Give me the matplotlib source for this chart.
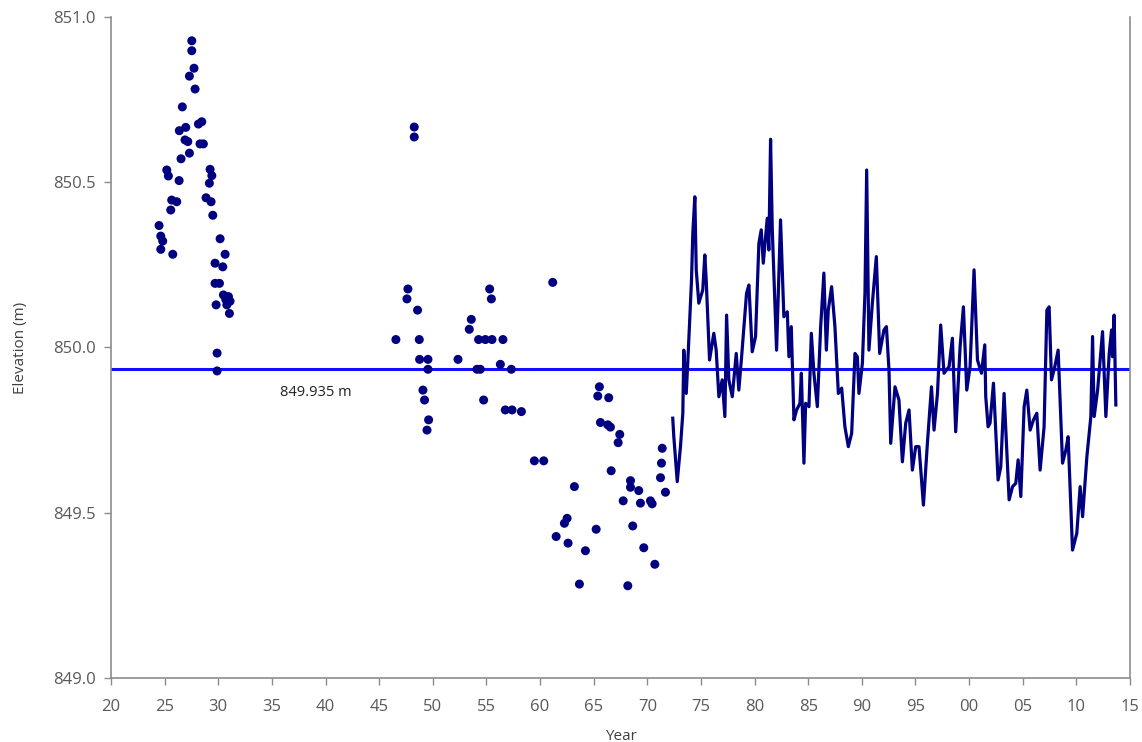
import matplotlib.pyplot as plt
import numpy as np

plt.rcParams['font.family'] = ['Open Sans', 'DejaVu Sans']

# Spot survey readings (year, elevation in m)
survey_years = [
    1927.53, 1927.53, 1927.74, 1927.31, 1927.84, 1926.65, 1928.46, 1928.15, 1926.97, 1926.37,
    1926.90, 1927.16, 1928.30, 1928.61, 1927.31, 1926.53, 1925.20, 1925.35, 1926.35, 1929.24,
    1929.40, 1929.17, 1925.66, 1926.13, 1925.57, 1928.86, 1929.33, 1929.49, 1924.48, 1924.64,
    1924.82, 1924.64, 1925.76, 1930.17, 1930.64, 1929.70, 1930.42, 1929.70, 1930.11, 1930.48,
    1930.95, 1929.80, 1930.80, 1931.04, 1929.89, 1929.89, 1930.70, 1931.10,
    1947.68, 1947.59, 1948.58, 1946.56, 1948.74, 1948.77, 1949.55, 1949.55, 1949.08, 1949.23,
    1949.61, 1949.46, 1952.35, 1953.59, 1953.40, 1954.27, 1954.90, 1955.52, 1956.54, 1954.12,
    1954.43, 1956.30, 1957.32, 1954.74, 1956.76, 1957.39, 1958.26, 1955.30, 1955.46, 1961.18,
    1948.27, 1948.27,
    1959.47, 1960.34, 1963.20, 1965.53, 1965.38, 1966.40, 1965.63, 1966.31, 1966.56, 1967.43,
    1967.28, 1966.63, 1968.43, 1968.43, 1969.20, 1967.75, 1969.36, 1970.29, 1970.45, 1971.39,
    1971.32, 1971.23, 1971.69, 1962.52, 1962.27, 1961.50, 1962.61, 1964.23, 1965.23, 1968.64,
    1969.67, 1970.70, 1963.67, 1968.18,
]
survey_elev = [
    850.928, 850.898, 850.845, 850.821, 850.782, 850.728, 850.683, 850.676, 850.666, 850.656,
    850.628, 850.623, 850.616, 850.616, 850.588, 850.571, 850.537, 850.519, 850.505, 850.539,
    850.520, 850.497, 850.446, 850.441, 850.416, 850.453, 850.441, 850.400, 850.369, 850.337,
    850.322, 850.297, 850.282, 850.329, 850.282, 850.255, 850.244, 850.194, 850.194, 850.159,
    850.154, 850.129, 850.129, 850.103, 849.983, 849.929, 850.145, 850.140,
    850.177, 850.147, 850.113, 850.024, 850.024, 849.964, 849.964, 849.934, 849.871, 849.841,
    849.781, 849.750, 849.964, 850.085, 850.055, 850.024, 850.024, 850.024, 850.024, 849.934,
    849.934, 849.949, 849.934, 849.841, 849.811, 849.811, 849.806, 850.177, 850.147, 850.197,
    850.667, 850.637,
    849.657, 849.657, 849.579, 849.881, 849.853, 849.848, 849.773, 849.766, 849.759, 849.737,
    849.712, 849.627, 849.597, 849.577, 849.567, 849.536, 849.529, 849.536, 849.527, 849.695,
    849.650, 849.606, 849.562, 849.483, 849.468, 849.428, 849.408, 849.385, 849.450, 849.460,
    849.394, 849.344, 849.284, 849.279,
]

# Continuous gauge record
gauge_years = [
    1972.37, 1972.47, 1972.79, 1973.09, 1973.31, 1973.40, 1973.63, 1973.81, 1974.12, 1974.24,
    1974.43, 1974.56, 1974.80, 1975.17, 1975.36, 1975.49, 1975.80, 1976.20, 1976.42, 1976.67,
    1976.98, 1977.23, 1977.39, 1977.60, 1977.92, 1978.29, 1978.53, 1978.79, 1979.25, 1979.47,
    1979.78, 1980.09, 1980.40, 1980.62, 1980.81, 1981.18, 1981.33, 1981.49, 1981.65, 1982.05,
    1982.42, 1982.73, 1983.05, 1983.20, 1983.42, 1983.67, 1983.92, 1984.23, 1984.36, 1984.60,
    1984.76, 1985.07, 1985.29, 1985.53, 1985.85, 1986.16, 1986.46, 1986.69, 1986.87, 1987.18,
    1987.49, 1987.81, 1988.12, 1988.42, 1988.74, 1989.05, 1989.36, 1989.58, 1989.73, 1990.05,
    1990.29, 1990.45, 1990.66, 1990.98, 1991.35, 1991.66, 1992.06, 1992.29, 1992.53, 1992.69,
    1993.09, 1993.46, 1993.78, 1994.09, 1994.40, 1994.71, 1995.02, 1995.33, 1995.74, 1996.11,
    1996.49, 1996.73, 1997.05, 1997.35, 1997.66, 1998.13, 1998.44, 1998.75, 1999.16, 1999.47,
    1999.78, 2000.09, 2000.46, 2000.78, 2001.15, 2001.46, 2001.55, 2001.77, 2001.95, 2002.27,
    2002.70, 2002.95, 2003.26, 2003.73, 2004.05, 2004.35, 2004.57, 2004.82, 2005.13, 2005.38,
    2005.69, 2006.00, 2006.31, 2006.62, 2006.99, 2007.25, 2007.46, 2007.68, 2007.99, 2008.30,
    2008.71, 2009.02, 2009.23, 2009.64, 2010.04, 2010.35, 2010.58, 2010.98, 2011.35, 2011.51,
    2011.66, 2011.98, 2012.44, 2012.75, 2013.06, 2013.28, 2013.37, 2013.52, 2013.68,
]
gauge_elev = [
    849.786, 849.730, 849.594, 849.700, 849.801, 849.992, 849.861, 849.982, 850.204, 850.346,
    850.456, 850.235, 850.134, 850.174, 850.280, 850.204, 849.962, 850.043, 849.992, 849.851,
    849.902, 849.791, 850.098, 849.902, 849.851, 849.982, 849.871, 849.972, 850.164, 850.189,
    849.987, 850.033, 850.315, 850.356, 850.255, 850.391, 850.295, 850.630, 850.356, 849.992,
    850.386, 850.093, 850.108, 849.972, 850.063, 849.781, 849.811, 849.831, 849.922, 849.650,
    849.831, 849.821, 850.043, 849.922, 849.821, 850.063, 850.225, 849.992, 850.113, 850.184,
    850.063, 849.861, 849.877, 849.760, 849.700, 849.740, 849.982, 849.972, 849.861, 849.952,
    850.164, 850.537, 849.992, 850.134, 850.275, 849.982, 850.053, 850.063, 849.932, 849.710,
    849.881, 849.841, 849.654, 849.771, 849.811, 849.629, 849.700, 849.700, 849.523, 849.710,
    849.881, 849.750, 849.861, 850.068, 849.922, 849.942, 850.028, 849.745, 850.002, 850.123,
    849.871, 849.942, 850.235, 849.962, 849.922, 850.008, 849.851, 849.760, 849.771, 849.892,
    849.599, 849.639, 849.861, 849.539, 849.579, 849.589, 849.660, 849.549, 849.821, 849.871,
    849.750, 849.781, 849.801, 849.629, 849.760, 850.113, 850.123, 849.902, 849.942, 849.992,
    849.650, 849.690, 849.730, 849.387, 849.438, 849.579, 849.488, 849.670, 849.791, 850.033,
    849.791, 849.871, 850.048, 849.791, 849.982, 850.053, 849.972, 850.098, 849.826,
]

reference_level = 849.935

year_ticks = list(range(1920, 2016, 5))
year_labels = [f"{y % 100:02d}" for y in year_ticks]
elev_ticks = [849.0, 849.5, 850.0, 850.5, 851.0]

navy = '#000080'
grey = '#595959'

fig = plt.figure(figsize=(11.42, 7.42), dpi=100)
ax = fig.add_axes([0.0972, 0.0863, 0.8923, 0.8908])

ax.axhline(reference_level, color='#1010ff', lw=2.2, zorder=2)
ax.plot(gauge_years, gauge_elev, color=navy, lw=2.3, solid_joinstyle='round', zorder=3)
ax.scatter(survey_years, survey_elev, s=42, color=navy, edgecolors='none', zorder=4)

ax.text(1939.1, 849.865, f"{reference_level} m", fontsize=10.5, ha='center', va='center',
        color='#222222')

ax.set_xlim(1920, 2015)
ax.set_ylim(849.0, 851.0)
ax.set_xticks(year_ticks)
ax.set_xticklabels(year_labels)
ax.set_yticks(elev_ticks)
ax.set_yticklabels([f"{v:.1f}" for v in elev_ticks])

ax.tick_params(axis='both', direction='out', length=5, width=1, color='#8c8c8c',
               labelsize=12, labelcolor=grey)
ax.tick_params(axis='x', pad=10)
ax.tick_params(axis='y', pad=6)
for side in ['left', 'bottom', 'right']:
    ax.spines[side].set_color('#8c8c8c')
    ax.spines[side].set_linewidth(1.2)
ax.spines['top'].set_visible(False)

ax.set_xlabel('Year', fontsize=11, color='#404040', labelpad=10)
ax.set_ylabel('Elevation (m)', fontsize=11, color='#404040', labelpad=18)

fig.savefig('out.png', dpi=100)
